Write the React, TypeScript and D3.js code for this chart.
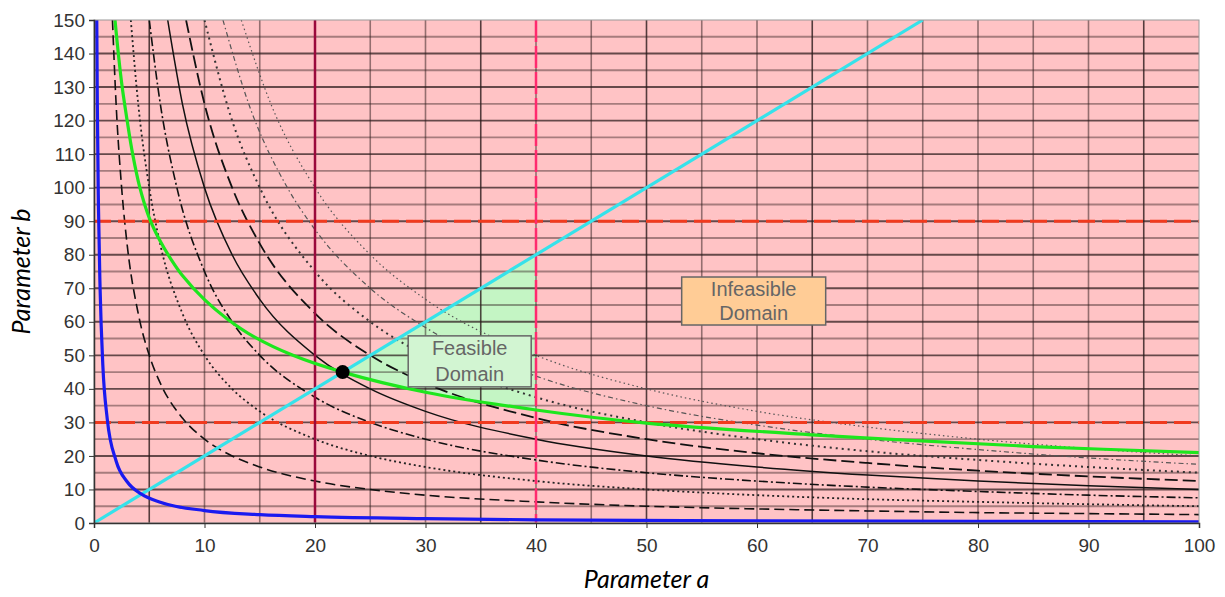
import { useEffect, useRef } from 'react'
import * as d3 from 'd3'

// axis ticks
const xTicks = [0, 10, 20, 30, 40, 50, 60, 70, 80, 90, 100]
const yTicks = [0, 10, 20, 30, 40, 50, 60, 70, 80, 90, 100, 110, 120, 130, 140, 150]
const darkVerticals = [5, 35, 50, 65, 95]

// constraint lines
const bLimits = [30, 90]
const aLowLimit = 20
const aHighLimit = 40

// iso curves b = level / a
const curve250: [number, number][] = [[1.67, 150], [2, 125], [2.5, 100], [3, 83], [4, 62.5], [5, 50], [6, 41.7], [8, 31.3], [10, 25], [12.5, 20], [15, 16.7], [20, 12.5], [25, 10], [30, 8.3], [40, 6.3], [50, 5], [60, 4.2], [70, 3.6], [80, 3.1], [90, 2.8], [100, 2.5]]
const curve500: [number, number][] = [[3.33, 150], [4, 125], [5, 100], [6, 83], [8, 62.5], [10, 50], [12.5, 40], [15, 33.3], [20, 25], [25, 20], [30, 16.7], [40, 12.5], [50, 10], [60, 8.3], [70, 7.1], [80, 6.3], [90, 5.6], [100, 5]]
const curve750: [number, number][] = [[5, 150], [6, 125], [7.5, 100], [10, 75], [12.5, 60], [15, 50], [20, 37.5], [25, 30], [30, 25], [40, 18.8], [50, 15], [60, 12.5], [70, 10.7], [80, 9.4], [90, 8.3], [100, 7.5]]
const curve1000: [number, number][] = [[6.67, 150], [8, 125], [10, 100], [12.5, 80], [15, 66.7], [20, 50], [25, 40], [30, 33.3], [40, 25], [50, 20], [60, 16.7], [70, 14.3], [80, 12.5], [90, 11.1], [100, 10]]
const curve1250: [number, number][] = [[8.33, 150], [10, 125], [12.5, 100], [15, 83.3], [20, 62.5], [25, 50], [30, 41.7], [40, 31.3], [50, 25], [60, 20.8], [70, 17.9], [80, 15.6], [90, 13.9], [100, 12.5]]
const curve1500: [number, number][] = [[10, 150], [12.5, 120], [15, 100], [20, 75], [25, 60], [30, 50], [40, 37.5], [50, 30], [60, 25], [70, 21.4], [80, 18.8], [90, 16.7], [100, 15]]
const curve1750: [number, number][] = [[11.67, 150], [14, 125], [17.5, 100], [20, 87.5], [25, 70], [30, 58.3], [40, 43.8], [50, 35], [60, 29.2], [70, 25], [80, 21.9], [90, 19.4], [100, 17.5]]
const curve2000: [number, number][] = [[13.33, 150], [16, 125], [20, 100], [25, 80], [30, 66.7], [40, 50], [50, 40], [60, 33.3], [70, 28.6], [80, 25], [90, 22.2], [100, 20]]

const greenCurve: [number, number][] = [[1.9, 150], [2.2, 140], [2.55, 130], [3.0, 120], [3.5, 110], [4.15, 100], [5.0, 91], [6, 84], [7, 78.5], [8, 73.8], [10, 66.6], [12, 61], [14.5, 55.5], [18, 50], [22.5, 45], [30, 39], [40, 33.7], [50, 29.8], [65, 26.3], [73, 24.8], [85, 22.8], [100, 21]]
const blueCurve: [number, number][] = [[0.25, 150], [0.3, 125], [0.4, 95], [0.55, 70], [0.8, 47], [1.2, 31], [2, 18.5], [3, 12.3], [4.3, 8.6], [6, 6.2], [10, 3.7], [15, 2.5], [20, 1.9], [30, 1.3], [40, 0.95], [60, 0.63], [80, 0.48], [100, 0.38]]
const cyanLine: [number, number][] = [[0, 0], [75, 150]]
const optimum: [number, number] = [22.5, 45]

const curveStyles = [
  { data: curve250, dash: '10,5', width: 1.6, color: '#111' },
  { data: curve500, dash: '2,3', width: 1.8, color: '#222' },
  { data: curve750, dash: '9,3,2,3', width: 1.6, color: '#111' },
  { data: curve1000, dash: null, width: 1.5, color: '#111' },
  { data: curve1250, dash: '13,5', width: 1.8, color: '#111' },
  { data: curve1500, dash: '2,4', width: 2, color: '#333' },
  { data: curve1750, dash: '5,3,1.5,3', width: 1.2, color: '#555' },
  { data: curve2000, dash: '1.5,3', width: 1.2, color: '#555' },
]

const Chart = () => {
  const chartRef = useRef<SVGSVGElement | null>(null)

  useEffect(() => {
    const width = 1225
    const height = 597
    const margin = { top: 20, right: 26, bottom: 74, left: 94 }
    const w = width - margin.left - margin.right
    const h = height - margin.top - margin.bottom

    const root = d3.select(chartRef.current)
    root.selectAll('*').remove()
    root.attr('width', width).attr('height', height)

    const svg = root.append('g').attr('transform', `translate(${margin.left},${margin.top})`)

    const x = d3.scaleLinear().domain([0, 100]).range([0, w])
    const y = d3.scaleLinear().domain([0, 150]).range([h, 0])

    root.append('defs').append('clipPath').attr('id', 'plot-clip')
      .append('rect').attr('width', w).attr('height', h)

    svg.append('rect').attr('width', w).attr('height', h).attr('fill', '#ffc3c5')

    const line = d3.line<[number, number]>()
      .x(d => x(d[0]))
      .y(d => y(d[1]))
      .curve(d3.curveMonotoneX)

    const smooth = d3.line<[number, number]>()
      .x(d => x(d[0]))
      .y(d => y(d[1]))
      .curve(d3.curveCatmullRom.alpha(0.5))

    // feasible region: cyan line above, green curve below, a <= 40
    const greenPart = greenCurve.filter(d => d[0] >= optimum[0] && d[0] <= aHighLimit)
    const slope = cyanLine[1][1] / cyanLine[1][0]
    const feasible: [number, number][] = [[aHighLimit, aHighLimit * slope], optimum, ...greenPart.slice(1)]
    svg.append('path')
      .attr('d', d3.line<[number, number]>().x(d => x(d[0])).y(d => y(d[1])).curve(d3.curveLinear)(feasible) + 'Z')
      .attr('fill', '#c4f5c4')

    // grid
    const grid = svg.append('g')
    d3.range(5, 150, 5).forEach(v => {
      grid.append('line')
        .attr('x1', 0).attr('x2', w).attr('y1', y(v)).attr('y2', y(v))
        .attr('stroke', '#2a1a1a').attr('stroke-opacity', v % 10 === 0 ? 0.72 : 0.42)
        .attr('stroke-width', 1.9)
    })
    d3.range(5, 100, 5).forEach(v => {
      grid.append('line')
        .attr('y1', 0).attr('y2', h).attr('x1', x(v)).attr('x2', x(v))
        .attr('stroke', '#2a1a1a').attr('stroke-opacity', darkVerticals.includes(v) ? 0.8 : 0.5)
        .attr('stroke-width', 1.6)
    })

    const plot = svg.append('g').attr('clip-path', 'url(#plot-clip)')

    curveStyles.forEach(c => {
      plot.append('path')
        .datum(c.data)
        .attr('d', line)
        .attr('fill', 'none')
        .attr('stroke', c.color)
        .attr('stroke-width', c.width)
        .attr('stroke-dasharray', c.dash)
    })

    // limits
    bLimits.forEach(v => {
      plot.append('line')
        .attr('x1', 0).attr('x2', w).attr('y1', y(v)).attr('y2', y(v))
        .attr('stroke', '#f03a1e').attr('stroke-width', 3)
        .attr('stroke-dasharray', '17,7')
    })
    plot.append('line')
      .attr('x1', x(aLowLimit)).attr('x2', x(aLowLimit)).attr('y1', 0).attr('y2', h)
      .attr('stroke', '#9a0a3c').attr('stroke-width', 2.5)
    plot.append('line')
      .attr('x1', x(aHighLimit)).attr('x2', x(aHighLimit)).attr('y1', 0).attr('y2', h)
      .attr('stroke', '#ff2a6e').attr('stroke-width', 2.5)
      .attr('stroke-dasharray', '22,4')

    plot.append('path').datum(greenCurve).attr('d', smooth)
      .attr('fill', 'none').attr('stroke', '#1ee61e').attr('stroke-width', 3.2)

    plot.append('path').datum(cyanLine).attr('d', d3.line<[number, number]>().x(d => x(d[0])).y(d => y(d[1])))
      .attr('fill', 'none').attr('stroke', '#36e2ea').attr('stroke-width', 3.2)

    plot.append('path').datum(blueCurve).attr('d', line)
      .attr('fill', 'none').attr('stroke', '#1a1af0').attr('stroke-width', 3.2)

    svg.append('circle')
      .attr('cx', x(optimum[0])).attr('cy', y(optimum[1])).attr('r', 7)
      .attr('fill', '#000')

    // labels
    const box = (cx: number, cy: number, bw: number, bh: number, fill: string, lines: string[], gap: number) => {
      const g = svg.append('g')
      g.append('rect')
        .attr('x', cx - bw / 2).attr('y', cy - bh / 2).attr('width', bw).attr('height', bh)
        .attr('fill', fill).attr('stroke', '#666').attr('stroke-width', 1.5)
      lines.forEach((t, i) => {
        g.append('text')
          .attr('x', cx).attr('y', cy + (i - (lines.length - 1) / 2) * gap + 7)
          .attr('text-anchor', 'middle')
          .attr('font-family', 'Liberation Sans, Arial, sans-serif')
          .attr('font-size', 20).attr('fill', '#666')
          .text(t)
      })
    }
    box(x(34), y(48.2), 123, 51, '#d2f5d2', ['Feasible', 'Domain'], 26)
    box(x(59.7), y(66.2), 144, 48, '#ffcc96', ['Infeasible', 'Domain'], 24)

    // frame
    svg.append('rect').attr('width', w).attr('height', h)
      .attr('fill', 'none').attr('stroke', '#999').attr('stroke-width', 1)

    // axes
    const xAxis = svg.append('g').attr('transform', `translate(0,${h})`)
      .call(d3.axisBottom(x).tickValues(xTicks).tickSize(5).tickPadding(11))
    const yAxis = svg.append('g')
      .call(d3.axisLeft(y).tickValues(yTicks).tickSize(5).tickPadding(4))
    ;[xAxis, yAxis].forEach(a => {
      a.select('.domain').attr('stroke', '#333').attr('stroke-width', 1.5)
      a.selectAll('.tick line').attr('stroke', '#333')
      a.selectAll('text')
        .attr('font-family', 'Liberation Sans, Arial, sans-serif')
        .attr('font-size', 19).attr('fill', '#333')
    })

    root.append('text')
      .attr('x', margin.left + x(50)).attr('y', 588)
      .attr('text-anchor', 'middle')
      .attr('font-family', 'Lato, sans-serif').attr('font-style', 'italic')
      .attr('font-size', 25).attr('fill', '#000')
      .text('Parameter a')

    root.append('text')
      .attr('transform', `translate(30,${margin.top + y(75)}) rotate(-90)`)
      .attr('text-anchor', 'middle')
      .attr('font-family', 'Lato, sans-serif').attr('font-style', 'italic')
      .attr('font-size', 25).attr('fill', '#000')
      .text('Parameter b')
  }, [])

  return <svg ref={chartRef} style={{ position: 'absolute', left: 0, top: 0, background: '#fff' }}></svg>
}

export default function App() {
  return <Chart />
}
